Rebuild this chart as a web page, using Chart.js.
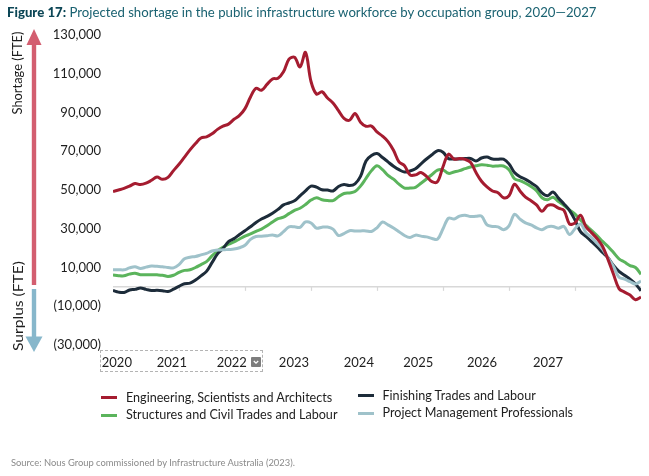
<!DOCTYPE html>
<html>
<head>
<meta charset="utf-8">
<script src="https://cdn.jsdelivr.net/npm/chart.js@4.4.1/dist/chart.umd.min.js"></script>
<style>
  html, body { margin: 0; padding: 0; background: #ffffff; }
  #wrap { position: relative; width: 649px; height: 476px; overflow: hidden; font-family: Lato, "Open Sans", sans-serif; }
  #chart { position: absolute; left: 0; top: 0; }
  #title { position: absolute; left: 7px; top: 4px; font-size: 13.2px; color: #1a6271; white-space: nowrap; }
  #title b { color: #0c4656; font-weight: 900; }
  #source { position: absolute; left: 11px; top: 457px; font-size: 9.4px; color: #8a8a8a; white-space: nowrap; }
  .lg { position: absolute; font-size: 12.6px; color: #1e1e1e; white-space: nowrap; }
  .sw { position: absolute; height: 3px; width: 16px; }
  #slicer { position: absolute; left: 100px; top: 350px; width: 163px; height: 22px; border: 1px dashed #b4b4b4; box-sizing: border-box; }
  #side { position: absolute; left: 0; top: 0; }
</style>
</head>
<body>
<div id="wrap">
  <canvas id="chart" width="649" height="476"></canvas>
  <div id="title"><b>Figure 17:</b> Projected shortage in the public infrastructure workforce by occupation group, 2020—2027</div>
  <svg id="side" width="60" height="380">
    <rect x="31.8" y="43" width="4.4" height="242" fill="#d35e70"/>
    <polygon points="34,29 26.5,45 41.5,45" fill="#d35e70"/>
    <rect x="31.8" y="289" width="4.4" height="49" fill="#87b7cb"/>
    <polygon points="34,352 25.5,336.5 42.5,336.5" fill="#87b7cb"/>
    <text x="0" y="0" transform="translate(22,73) rotate(-90)" text-anchor="middle" font-family="Lato, sans-serif" font-size="13" fill="#1e1e1e" textLength="83" lengthAdjust="spacingAndGlyphs">Shortage (FTE)</text>
    <text x="0" y="0" transform="translate(22.5,306) rotate(-90)" text-anchor="middle" font-family="Lato, sans-serif" font-size="13.5" fill="#1e1e1e" textLength="90" lengthAdjust="spacingAndGlyphs">Surplus (FTE)</text>
  </svg>
  <div id="slicer"></div>
  <svg style="position:absolute;left:251px;top:357px" width="10" height="10">
    <rect x="0" y="0" width="10" height="10" rx="1" fill="#7d7d7d"/>
    <polyline points="2.8,4 5,6.2 7.2,4" fill="none" stroke="#ffffff" stroke-width="1.3"/>
  </svg>
  <div id="legend"></div>
  <div id="source">Source: Nous Group commissioned by Infrastructure Australia (2023).</div>
</div>
<script>
// ---------- DATA ----------
// monthly points, Jan 2020 .. Jan 2028 (97 points)
const months = [];
for (let y = 2020; y <= 2028; y++) {
  for (let m = 1; m <= 12; m++) {
    if (y === 2028 && m > 1) break;
    months.push(y + '-' + String(m).padStart(2, '0'));
  }
}

const yearLabels = ['2020', '2021', '2022', '2023', '2024', '2025', '2026', '2027'];
// month index at which each year label sits in the reference
const yearLabelPos = [0.7, 10.7, 21.6, 32.9, 44.7, 55.5, 67.1, 79.1];
// month index of the small tick marks on the zero line
const yearTickPos = [12, 24, 36, 48, 60, 72, 84];

const seriesNames = [
  'Engineering, Scientists and Architects',
  'Structures and Civil Trades and Labour',
  'Finishing Trades and Labour',
  'Project Management Professionals'
];

const engineering = [
  49200, 50000, 50800, 52000, 53300, 52800, 53500, 55000, 56700, 55500, 56500, 60000,
  63300, 67000, 70700, 74000, 76800, 77400, 79000, 81300, 83000, 84000, 86500, 88500,
  92000, 98000, 102500, 101500, 104500, 107300, 107700, 111000, 117500, 118500, 113500, 121000,
  106000, 99500, 100700, 97500, 94900, 91000, 87000, 86000, 89500, 85000, 82900, 83000,
  80000, 77800, 75000, 70500, 64500, 62500, 57800, 57800, 59000, 57000, 54300, 54300,
  62000, 68500, 66000, 66200, 65800, 64300, 59000, 54500, 51600, 49500, 48600, 46000,
  47000, 53000, 49500, 46300, 44500, 42300, 39000, 42000, 42300, 40600, 39500, 32500,
  33000, 37000, 31000, 28000, 25000, 21000, 14200, 6500, -900, -2700, -4200, -6600,
  -5300
];

const structures = [
  6200, 5800, 5700, 6600, 7000, 6300, 6200, 6300, 6200, 6000, 5400, 6000,
  7500, 8500, 8800, 10000, 11500, 13000, 16000, 18600, 20400, 22000, 23200, 24700,
  26200, 27300, 28700, 29800, 31500, 33500, 35200, 36000, 37800, 39500, 40600, 42500,
  44800, 46000, 45000, 44600, 44500, 46500, 48200, 48500, 49200, 52000, 56000, 60000,
  62500, 60500, 57500, 55600, 53000, 51000, 51000, 51400, 53500, 55700, 58000, 60300,
  60400, 58600, 59300, 60000, 61000, 61900, 62500, 63000, 62800, 62300, 62400, 62400,
  60500, 55800, 54800, 53500, 51800, 49700, 46000, 45000, 46300, 44000, 42000, 39700,
  37500, 34500, 31700, 29200, 26500, 23500, 20800, 17700, 14500, 12800, 11000, 10000,
  6500
];

const finishing = [
  -1900, -2700, -2900, -1600, -1300, -600, -1300, -1900, -1800, -2000, -2400, -1200,
  300, 1600, 1900, 3500, 5700, 8000, 12500, 17000, 19800, 23400, 24900, 27000,
  29000, 31000, 33200, 35000, 36400, 38000, 40000, 42300, 43300, 44400, 47000, 49500,
  52000, 51500, 50100, 50000, 49500, 51800, 52800, 52300, 53200, 57000, 65000, 67800,
  68800, 66800, 64500, 62300, 60500, 59300, 59800, 61000, 63500, 66000, 68200, 70300,
  69500, 66200, 66000, 66000, 66200, 66300, 65000, 66500, 67000, 66000, 65900, 65900,
  63500, 59000, 56800, 55500, 53700, 51800, 48500, 47000, 49000, 45800, 42800, 39500,
  34500, 28500, 26000, 23400, 20700, 17800, 15000, 11000, 8000, 6000, 4000, 1500,
  -2000
];

const projectMgmt = [
  8800, 8900, 8800, 9800, 10400, 9500, 10200, 10800, 10600, 10400, 10000, 9800,
  11500, 14500, 15300, 15700, 16500, 17300, 18500, 19000, 19100, 19300, 19500, 20200,
  21500, 24500, 26000, 26100, 26400, 26800, 26300, 28500, 31000, 31000, 30700, 33500,
  33000, 30300, 30800, 30900, 29800, 26500, 27500, 29000, 28900, 28900, 28900, 28600,
  30500, 33500, 32000, 30400, 28500, 26500, 25500, 26700, 26200, 25800, 25000, 24600,
  30000, 35500, 35000, 36500, 37000, 36300, 36400, 36500, 32000, 31200, 31000, 29500,
  31500, 37500, 35000, 33000, 32000, 30500, 29500, 31000, 31200, 30300, 31200, 27000,
  30000, 32500, 28000, 25500, 22500, 19500, 15000, 10500, 5000, 4000, 2700, 1500,
  3000
];

// ---------- STYLE ----------
const colors = ['#a51c30', '#5bb45c', '#1d2c3a', '#9fc2ca'];
const seriesData = [engineering, structures, finishing, projectMgmt];
const drawOrder = [1, 4, 3, 2];

// ---------- LEGEND (HTML) ----------
const legendSpots = [
  { sx: 101, sy: 396, tx: 126, ty: 389.5 },
  { sx: 101, sy: 413.5, tx: 126, ty: 406.5 },
  { sx: 357.5, sy: 394, tx: 382.5, ty: 387.5 },
  { sx: 357.5, sy: 412, tx: 382.5, ty: 405 }
];
const lg = document.getElementById('legend');
seriesNames.forEach((n, i) => {
  const s = legendSpots[i];
  const sw = document.createElement('div');
  sw.className = 'sw';
  sw.style.left = s.sx + 'px'; sw.style.top = s.sy + 'px';
  sw.style.background = colors[i];
  lg.appendChild(sw);
  const t = document.createElement('div');
  t.className = 'lg';
  t.style.left = s.tx + 'px'; t.style.top = s.ty + 'px';
  t.textContent = n;
  lg.appendChild(t);
});

// ---------- CHART ----------
const fmt = v => {
  const s = Math.abs(v).toLocaleString('en-US');
  return v < 0 ? '(' + s + ')' : s;
};

const zeroTicks = {
  id: 'zeroTicks',
  beforeDatasetsDraw(chart) {
    const { ctx, scales: { x, y } } = chart;
    const y0 = y.getPixelForValue(0);
    ctx.save();
    ctx.strokeStyle = '#d8d8d8';
    ctx.lineWidth = 1.2;
    yearTickPos.forEach(m => {
      const px = Math.round(x.getPixelForValue(m)) + 0.5;
      ctx.beginPath();
      ctx.moveTo(px, y0);
      ctx.lineTo(px, y0 + 4);
      ctx.stroke();
    });
    ctx.restore();
  }
};

new Chart(document.getElementById('chart'), {
  type: 'line',
  data: {
    labels: months,
    datasets: seriesNames.map((n, i) => ({
      label: n,
      data: seriesData[i].map((v, k) => ({ x: k, y: v })),
      borderColor: colors[i],
      backgroundColor: colors[i],
      borderWidth: 3,
      pointRadius: 0,
      tension: 0.35,
      fill: false,
      order: drawOrder[i]
    }))
  },
  options: {
    responsive: false,
    animation: false,
    devicePixelRatio: 1,
    layout: { padding: { left: 0, right: 8, top: 35, bottom: 101 } },
    plugins: { legend: { display: false }, tooltip: { enabled: false }, title: { display: false } },
    scales: {
      x: {
        type: 'linear',
        min: 0,
        max: months.length - 1,
        grid: { display: false, drawTicks: false },
        border: { display: false },
        afterBuildTicks: s => { s.ticks = yearLabelPos.map(v => ({ value: v })); },
        afterFit: s => { s.height = 30; s.paddingLeft = 0; s.paddingRight = 0; },
        ticks: {
          autoSkip: false,
          maxRotation: 0,
          padding: 10,
          color: '#1e1e1e',
          font: { family: 'Lato', size: 13 },
          callback: (v, i) => yearLabels[i]
        }
      },
      y: {
        min: -30000,
        max: 130000,
        afterBuildTicks: s => {
          const t = [];
          for (let v = -30000; v <= 130000; v += 20000) t.push({ value: v });
          t.push({ value: 0 });
          s.ticks = t.sort((a, b) => a.value - b.value);
        },
        afterFit: s => { s.width = 113; s.paddingTop = 0; s.paddingBottom = 0; },
        grid: {
          drawTicks: false,
          color: c => (c.tick && c.tick.value === 0 ? '#d8d8d8' : 'rgba(0,0,0,0)'),
          lineWidth: 1.5
        },
        border: { display: false },
        ticks: {
          padding: 12,
          color: '#1e1e1e',
          font: { family: 'Lato', size: 13 },
          callback: v => (v === 0 ? '' : fmt(v))
        }
      }
    }
  },
  plugins: [zeroTicks]
});
</script>
</body>
</html>
